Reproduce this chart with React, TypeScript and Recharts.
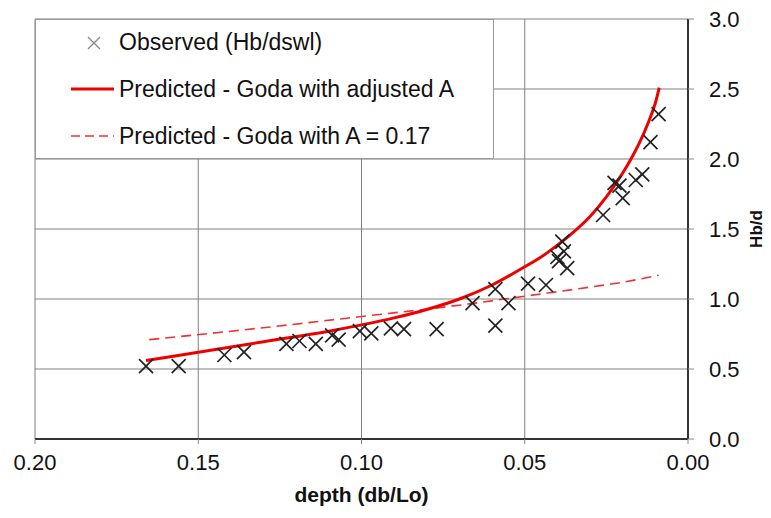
import React from 'react';
import { ComposedChart, Scatter, Line, XAxis, YAxis, CartesianGrid } from 'recharts';

// observed breaker index
const observedDepth = [
  0.166, 0.156, 0.142, 0.136, 0.123, 0.119, 0.114, 0.109, 0.107, 0.1005, 0.097,
  0.091, 0.087, 0.077, 0.066, 0.059, 0.059, 0.055, 0.049, 0.0435, 0.04, 0.0385,
  0.038, 0.0395, 0.037, 0.026, 0.0225, 0.021, 0.02, 0.016, 0.014, 0.0115, 0.009,
];
const observedHb = [
  0.52, 0.52, 0.6, 0.62, 0.68, 0.7, 0.68, 0.74, 0.71, 0.77, 0.755,
  0.79, 0.785, 0.785, 0.97, 1.07, 0.81, 0.97, 1.11, 1.1, 1.3, 1.41,
  1.34, 1.27, 1.22, 1.6, 1.83, 1.81, 1.72, 1.85, 1.89, 2.12, 2.32,
];

// Goda with adjusted A
const adjustedDepth = [0.166, 0.15, 0.13, 0.11, 0.1, 0.09, 0.08, 0.07, 0.06, 0.05, 0.045, 0.04, 0.035, 0.03, 0.025, 0.02, 0.017, 0.015, 0.012, 0.01, 0.0088];
const adjustedHb = [0.56, 0.62, 0.695, 0.77, 0.815, 0.865, 0.925, 1.0, 1.1, 1.23, 1.3, 1.385, 1.48, 1.59, 1.73, 1.9, 2.02, 2.11, 2.27, 2.4, 2.51];

// Goda with A = 0.17
const defaultDepth = [0.165, 0.13, 0.1, 0.067, 0.05, 0.033, 0.02, 0.009];
const defaultHb = [0.71, 0.795, 0.875, 0.965, 1.02, 1.075, 1.12, 1.17];

const xTicks = [0, 0.05, 0.1, 0.15, 0.2];
const yTicks = [0, 0.5, 1, 1.5, 2, 2.5, 3];

const observed = observedDepth.map((x, i) => ({ x, y: observedHb[i] }));
const adjusted = adjustedDepth.map((x, i) => ({ x, y: adjustedHb[i] }));
const goda017 = defaultDepth.map((x, i) => ({ x, y: defaultHb[i] }));

const FONT = '"Liberation Sans", Arial, sans-serif';

const Cross = (props: any) => {
  const { cx, cy } = props;
  const r = 7;
  return (
    <g stroke="#222" strokeWidth={1.7}>
      <line x1={cx - r} y1={cy - r} x2={cx + r} y2={cy + r} />
      <line x1={cx - r} y1={cy + r} x2={cx + r} y2={cy - r} />
    </g>
  );
};

const LegendBox = () => (
  <div
    style={{
      position: 'absolute', left: 35, top: 19, width: 459, height: 140, boxSizing: 'border-box',
      background: '#fff', border: '1px solid #999', fontFamily: FONT, fontSize: 23, color: '#111',
    }}
  >
    <svg width={459} height={140} style={{ position: 'absolute', left: 0, top: 0 }}>
      <g stroke="#888" strokeWidth={1.3}>
        <line x1={52} y1={17} x2={64} y2={29} />
        <line x1={52} y1={29} x2={64} y2={17} />
      </g>
      <line x1={35} y1={69} x2={78} y2={69} stroke="#e00" strokeWidth={3} />
      <line x1={35} y1={116} x2={78} y2={116} stroke="#e33" strokeWidth={1.5} strokeDasharray="9 5" />
    </svg>
    <div style={{ position: 'absolute', left: 83, top: 9, whiteSpace: 'nowrap' }}>Observed (Hb/dswl)</div>
    <div style={{ position: 'absolute', left: 83, top: 56, whiteSpace: 'nowrap' }}>Predicted - Goda with adjusted A</div>
    <div style={{ position: 'absolute', left: 83, top: 103, whiteSpace: 'nowrap' }}>Predicted - Goda with A = 0.17</div>
  </div>
);

const YTitle = (props: any) => {
  const { viewBox } = props;
  const x = viewBox.x + 68;
  const y = viewBox.y + viewBox.height / 2;
  return (
    <text x={x} y={y} transform={`rotate(-90 ${x} ${y})`} textAnchor="middle" dominantBaseline="central"
      fontFamily={FONT} fontSize={17} fontWeight="bold" fill="#111">
      Hb/d
    </text>
  );
};

export default function App() {
  return (
    <div style={{ position: 'absolute', left: 0, top: 0, width: 771, height: 518, background: '#fff' }}>
      <ComposedChart width={771} height={518} margin={{ top: 19, right: 0, bottom: 9, left: 35 }}>
        <CartesianGrid stroke="#808080" strokeWidth={1} />
        <XAxis
          type="number" dataKey="x" domain={[0, 0.2]} ticks={xTicks} reversed allowDataOverflow
          tickFormatter={(v: number) => v.toFixed(2)} height={70}
          axisLine={{ stroke: '#333', strokeWidth: 2 }} tickLine={{ stroke: '#888' }} tickSize={5} tickMargin={10}
          tick={{ fontSize: 22, fill: '#111', fontFamily: FONT }}
          label={{ value: 'depth (db/Lo)', position: 'insideBottom', offset: 7, fontSize: 21, fontWeight: 'bold', fill: '#111', fontFamily: FONT }}
        />
        <YAxis
          type="number" dataKey="y" orientation="right" domain={[0, 3]} ticks={yTicks} width={83}
          tickFormatter={(v: number) => v.toFixed(1)}
          axisLine={{ stroke: '#333', strokeWidth: 2 }} tickLine={{ stroke: '#888' }} tickSize={6} tickMargin={15}
          tick={{ fontSize: 22, fill: '#111', fontFamily: FONT }}
          label={<YTitle />}
        />
        <Line data={goda017} dataKey="y" type="monotone" stroke="#e33" strokeWidth={1.6} strokeDasharray="10 6" dot={false} isAnimationActive={false} />
        <Line data={adjusted} dataKey="y" type="monotone" stroke="#e00" strokeWidth={3} dot={false} isAnimationActive={false} />
        <Scatter data={observed} dataKey="y" shape={<Cross />} isAnimationActive={false} />
      </ComposedChart>
      <LegendBox />
    </div>
  );
}
